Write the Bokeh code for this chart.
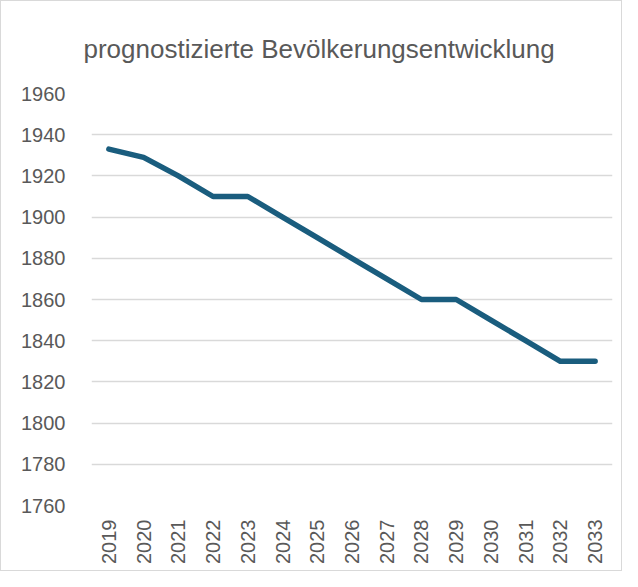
import math
from bokeh.plotting import figure
from bokeh.models import Range1d, FixedTicker
from bokeh.embed import file_html
from bokeh.resources import INLINE

years = ["2019", "2020", "2021", "2022", "2023", "2024", "2025", "2026",
         "2027", "2028", "2029", "2030", "2031", "2032", "2033"]
population = [1933, 1929, 1920, 1910, 1910, 1900, 1890, 1880,
              1870, 1860, 1860, 1850, 1840, 1830, 1830]
y_ticks = [1760, 1780, 1800, 1820, 1840, 1860, 1880, 1900, 1920, 1940, 1960]

p = figure(x_range=years, y_range=Range1d(1760, 1960), width=622, height=571,
           output_backend="svg", toolbar_location=None,
           title="prognostizierte Bevölkerungsentwicklung",
           min_border_left=90, min_border_right=11, min_border_top=90, min_border_bottom=67)
p.styles = {"border": "1px solid #d9d9d9"}
p.outline_line_color = None
p.title.align = "left"
p.title.offset = -8
p.title.text_font = "Liberation Sans"
p.title.text_font_style = "normal"
p.title.text_font_size = "26px"
p.title.text_color = "#595959"
p.title.standoff = 60

p.line(years, population, line_color="#1a5d7e", line_width=5.5, line_cap="round", line_join="round")

p.xgrid.grid_line_color = None
p.ygrid.grid_line_color = "#d9d9d9"
p.ygrid.grid_line_width = 1.5
p.yaxis.ticker = FixedTicker(ticks=y_ticks)
for ax in (p.xaxis[0], p.yaxis[0]):
    ax.axis_line_color = None
    ax.major_tick_line_color = None
    ax.minor_tick_line_color = None
    ax.major_label_text_color = "#595959"
    ax.major_label_text_font = "Liberation Sans"
    ax.major_label_text_font_size = "20px"
p.yaxis.major_label_standoff = 20
p.xaxis.major_label_orientation = math.pi / 2
p.xaxis.major_label_standoff = 8

open("out.html", "w").write(file_html(p, INLINE))
